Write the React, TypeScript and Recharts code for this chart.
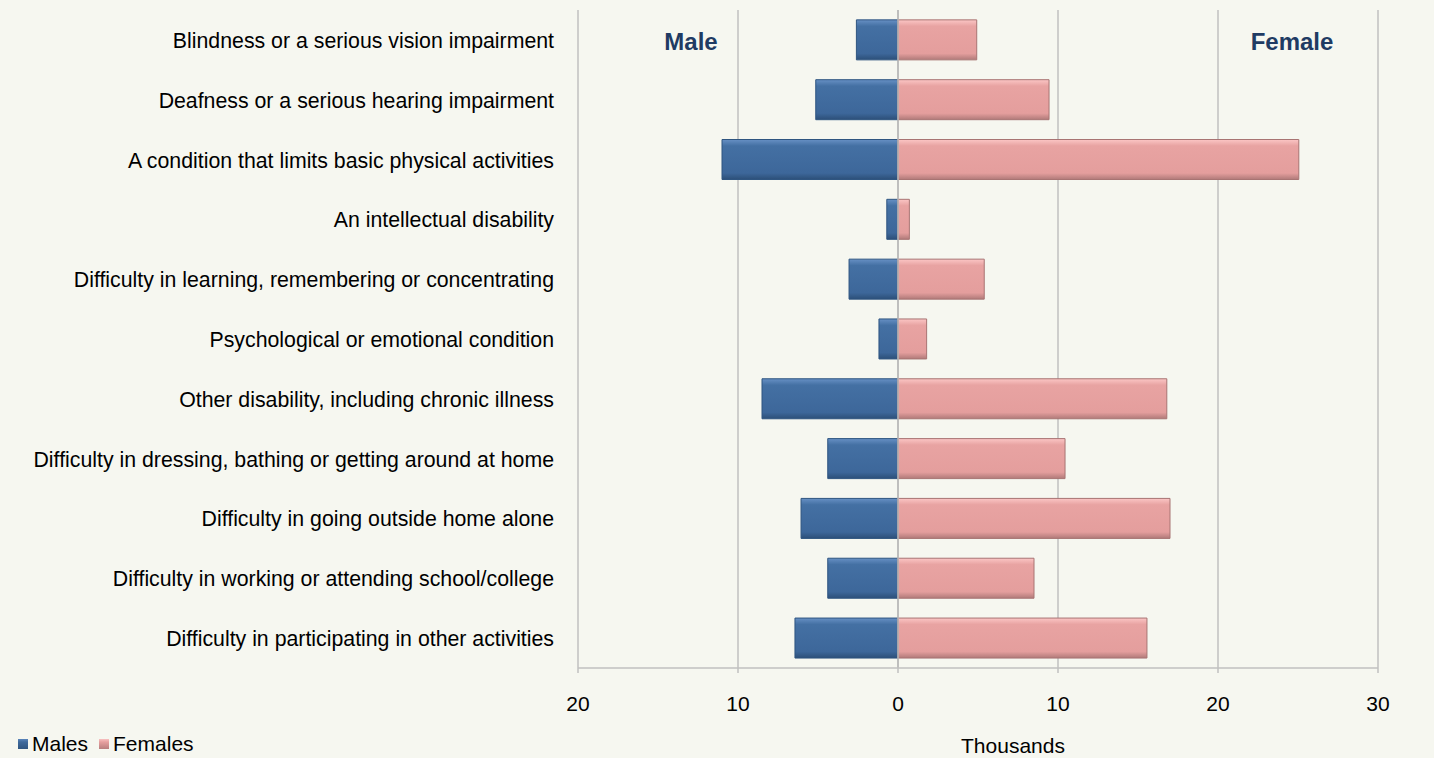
import React from "react";
import { BarChart, Bar, XAxis, YAxis, CartesianGrid, ReferenceLine } from "recharts";

const categories = [
  "Blindness or a serious vision impairment",
  "Deafness or a serious hearing impairment",
  "A condition that limits basic physical activities",
  "An intellectual disability",
  "Difficulty in learning, remembering or concentrating",
  "Psychological or emotional condition",
  "Other disability, including chronic illness",
  "Difficulty in dressing, bathing or getting around at home",
  "Difficulty in going outside home alone",
  "Difficulty in working or attending school/college",
  "Difficulty in participating in other activities",
];
const males = [2.6, 5.14, 11.0, 0.7, 3.06, 1.19, 8.5, 4.39, 6.06, 4.39, 6.44];
const females = [4.92, 9.44, 25.05, 0.71, 5.39, 1.79, 16.8, 10.44, 17.0, 8.5, 15.56];
const xTicks = [-20, -10, 0, 10, 20, 30];

const data = categories.map((name, i) => ({ name, Males: -males[i], Females: females[i] }));

const FONT = "'Liberation Sans', Arial, sans-serif";
const BG = "#f6f7f0";

const CatTick = (props: any) => {
  const { x, y, payload } = props;
  return (
    <text x={x} y={y} dy={8} textAnchor="end" fill="#000" fontSize={21.3} fontFamily={FONT}>
      {payload.value}
    </text>
  );
};

export default function App() {
  return (
    <div style={{ position: "absolute", left: 0, top: 0, width: 1434, height: 758, background: BG, overflow: "hidden" }}>
      <BarChart
        width={1434}
        height={758}
        data={data}
        layout="vertical"
        stackOffset="sign"
        barCategoryGap="16.5%"
        margin={{ top: 10, right: 56, left: 0, bottom: 0 }}
      >
        <defs>
          <linearGradient id="gMale" x1="0" y1="0" x2="0" y2="1">
            <stop offset="0%" stopColor="#6790c4" />
            <stop offset="16%" stopColor="#4470a3" />
            <stop offset="84%" stopColor="#3d679a" />
            <stop offset="100%" stopColor="#2c4f78" />
          </linearGradient>
          <linearGradient id="gFemale" x1="0" y1="0" x2="0" y2="1">
            <stop offset="0%" stopColor="#fbc6c5" />
            <stop offset="16%" stopColor="#e8a3a2" />
            <stop offset="84%" stopColor="#e49e9d" />
            <stop offset="100%" stopColor="#b07a79" />
          </linearGradient>
        </defs>
        <CartesianGrid horizontal={false} vertical={true} stroke="#c0c0c0" strokeWidth={1.5} />
        <XAxis
          type="number"
          domain={[-20, 30]}
          ticks={xTicks}
          tickFormatter={(v: number) => String(Math.abs(v))}
          height={90}
          tickSize={5}
          tickMargin={23}
          stroke="#c0c0c0"
          strokeWidth={1.5}
          tick={{ fill: "#000", fontSize: 21, fontFamily: FONT }}
        />
        <YAxis
          type="category"
          dataKey="name"
          width={578}
          axisLine={false}
          tickLine={false}
          tickSize={0}
          tickMargin={24}
          interval={0}
          tick={<CatTick />}
        />
        <ReferenceLine x={0} stroke="#b8b8b8" strokeWidth={1.5} />
        <Bar dataKey="Males" stackId="a" fill="url(#gMale)" stroke="#2f5580" strokeWidth={1} isAnimationActive={false} />
        <Bar dataKey="Females" stackId="a" fill="url(#gFemale)" stroke="#a87473" strokeWidth={1} isAnimationActive={false} />
      </BarChart>
      <div style={{ position: "absolute", left: 18, top: 733, display: "flex", alignItems: "center", fontFamily: FONT, fontSize: 21, color: "#000", lineHeight: "22px" }}>
        <span style={{ display: "inline-block", width: 10, height: 10, background: "linear-gradient(#5a85bb,#3f6a9c 30%,#2f5580)", marginRight: 4 }} />
        <span style={{ marginRight: 11 }}>Males</span>
        <span style={{ display: "inline-block", width: 10, height: 10, background: "linear-gradient(#f7c0bf,#e6a09f 30%,#b87f7e)", marginRight: 4 }} />
        <span>Females</span>
      </div>
      <div style={{ position: "absolute", left: 691, top: 42, transform: "translate(-50%,-50%)", fontFamily: FONT, fontWeight: "bold", fontSize: 24, color: "#1f3b63" }}>Male</div>
      <div style={{ position: "absolute", left: 1292, top: 42, transform: "translate(-50%,-50%)", fontFamily: FONT, fontWeight: "bold", fontSize: 24, color: "#1f3b63" }}>Female</div>
      <div style={{ position: "absolute", left: 1013, top: 746, transform: "translate(-50%,-50%)", fontFamily: FONT, fontSize: 21, color: "#000" }}>Thousands</div>
    </div>
  );
}
